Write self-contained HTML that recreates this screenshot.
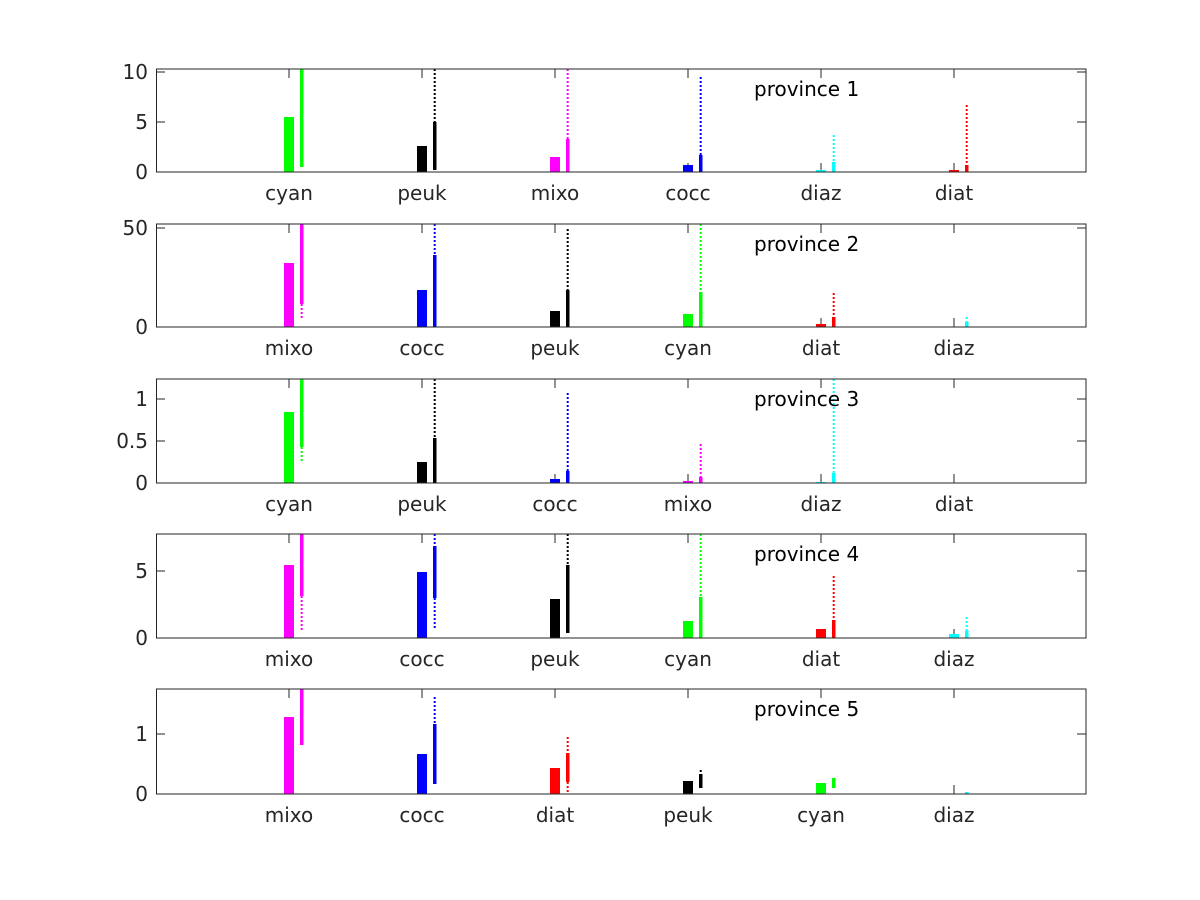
<!DOCTYPE html>
<html><head><meta charset="utf-8"><style>body{margin:0;background:#fff}svg{display:block}text{font-family:"DejaVu Sans","Liberation Sans",sans-serif}</style></head>
<body>
<svg id="s" width="1200" height="900" xmlns="http://www.w3.org/2000/svg"></svg>
<script>
const s=document.getElementById('s');let h='';
const C={g:'#00ff00',k:'#000',m:'#ff00ff',b:'#0000ff',c:'#00ffff',r:'#ff0000'};
const X=[289,422,555,688,821,954];
const P=[
{t:69,b:172,y:[[10,72],[5,122],[0,172]],d:[
['cyan','g',117,69,167,[]],['peuk','k',146,122,170,[[69,122]]],['mixo','m',157,139,172,[[69,139]]],
['cocc','b',165,155,172,[[77,155]]],['diaz','c',170,162,172,[[135,162]]],['diat','r',170,165,172,[[105,165]]]]},
{t:224,b:327,y:[[50,228],[0,327]],d:[
['mixo','m',263,224,304,[[304,320]]],['cocc','b',290,255,327,[[224,255]]],['peuk','k',311,290,327,[[229,290]]],
['cyan','g',314,292,327,[[224,292]]],['diat','r',324,317,327,[[293,317]]],['diaz','c',327,322,327,[[317,322]]]]},
{t:379,b:483,y:[[1,399],[0.5,441],[0,483]],d:[
['cyan','g',412,379,447,[[447,462]]],['peuk','k',462,438,483,[[379,438]]],['cocc','b',479,471,483,[[393,471]]],
['mixo','m',481,477,483,[[444,477]]],['diaz','c',482,473,483,[[379,473]]],['diat','r',483,483,483,[]]]},
{t:534,b:638,y:[[5,571],[0,638]],d:[
['mixo','m',565,534,596,[[596,631]]],['cocc','b',572,546,598,[[598,628],[534,546]]],['peuk','k',599,565,633,[[534,565]]],
['cyan','g',621,597,638,[[534,597]]],['diat','r',629,620,638,[[576,620]]],['diaz','c',634,631,638,[[617,631]]]]},
{t:689,b:794,y:[[1,734],[0,794]],d:[
['mixo','m',717,689,745,[]],['cocc','b',754,724,784,[[697,724]]],['diat','r',768,753,782,[[737,753],[782,792]]],
['peuk','k',781,774,788,[[770,774]]],['cyan','g',783,778,788,[]],['diaz','c',794,792,794,[]]]}];
P.forEach((p,i)=>{
 p.d.forEach((d,j)=>{const x=X[j],c=C[d[1]];
  h+=`<line x1="${x}" x2="${x}" y1="${p.t}" y2="${p.t+9}" stroke="#262626"/><line x1="${x}" x2="${x}" y1="${p.b}" y2="${p.b-9}" stroke="#262626"/>`;
  if(d[2]<p.b)h+=`<rect x="${x-5}" y="${d[2]}" width="10" height="${p.b-d[2]}" fill="${c}"/>`;
  if(d[4]>d[3])h+=`<rect x="${x+11}" y="${d[3]}" width="3.5" height="${d[4]-d[3]}" fill="${c}"/>`;
  d[5].forEach(w=>h+=`<line x1="${x+12.7}" x2="${x+12.7}" y1="${w[0]}" y2="${w[1]}" stroke="${c}" stroke-width="2" stroke-dasharray="2 2"/>`);
  h+=`<text x="${x}" y="${p.b+28}" font-size="20" fill="#262626" text-anchor="middle">${d[0]}</text>`;});
 p.y.forEach(y=>{h+=`<line x1="156" x2="165" y1="${y[1]}" y2="${y[1]}" stroke="#262626"/><line x1="1086" x2="1077" y1="${y[1]}" y2="${y[1]}" stroke="#262626"/>`;
  h+=`<text x="148" y="${y[1]+7}" font-size="20" fill="#262626" text-anchor="end">${y[0]}</text>`;});
 h+=`<rect x="156.5" y="${p.t}" width="929.5" height="${p.b-p.t}" fill="none" stroke="#262626"/>`;
 h+=`<text x="754" y="${p.t+27}" font-size="20" fill="#000">province ${i+1}</text>`;
});
s.innerHTML=h;
</script>
</body></html>
